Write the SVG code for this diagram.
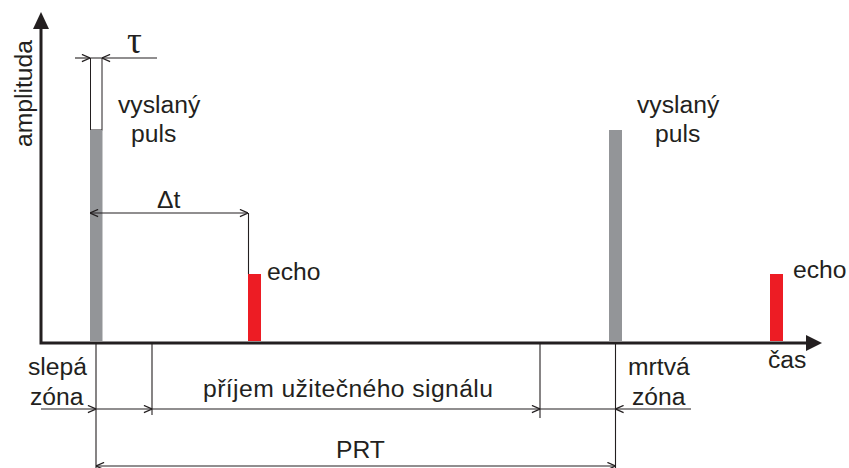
<svg xmlns="http://www.w3.org/2000/svg" width="849" height="468" viewBox="0 0 849 468">
<style>
text{font-family:"Liberation Sans",Arial,sans-serif;font-size:24.7px;fill:#231f20}
.tau{font-family:"Liberation Serif","Times New Roman",serif;font-size:37px}
.thin{stroke:#231f20;stroke-width:1.1;fill:none}
.axis{stroke:#231f20;stroke-width:3;fill:none}
.pulse{fill:#939598}
.echo{fill:#ed1c24}
</style>
<defs>
<marker id="ah" viewBox="0 0 10 10" refX="10" refY="5" markerWidth="9" markerHeight="9" markerUnits="userSpaceOnUse" orient="auto-start-reverse">
<path d="M1,1 L10,5 L1,9" fill="none" stroke="#231f20" stroke-width="1.4"/>
</marker>
</defs>
<rect width="849" height="468" fill="#fff"/>
<g id="axes">
<polyline class="axis" points="41,26 41,343 808,343"/>
<polygon points="41,12 33,29 49,29" fill="#231f20"/>
<polygon points="822,343 806,335 806,351" fill="#231f20"/>
<text transform="translate(32,93.5) rotate(-90)" text-anchor="middle">amplituda</text>
<text x="768" y="368">čas</text>
</g>
<g id="pulse1">
<rect x="90.5" y="58" width="11.5" height="72" fill="#fff" stroke="#231f20" stroke-width="1"/>
<rect class="pulse" x="90" y="130" width="12.5" height="211"/>
<text x="118" y="113">vyslaný</text>
<text x="131" y="142">puls</text>
</g>
<g id="echo1">
<rect class="echo" x="248" y="274" width="13" height="67"/>
<text x="267" y="280">echo</text>
</g>
<g id="pulse2">
<rect class="pulse" x="609" y="130" width="13" height="211"/>
<text x="637" y="113">vyslaný</text>
<text x="655" y="142">puls</text>
</g>
<g id="echo2">
<rect class="echo" x="770" y="274" width="13" height="67"/>
<text x="793" y="278">echo</text>
</g>
<g id="connectors">
<line class="thin" x1="75" y1="58" x2="90" y2="58" marker-end="url(#ah)"/>
<line class="thin" x1="157" y1="58" x2="102" y2="58" marker-end="url(#ah)"/>
<line class="thin" x1="90" y1="213" x2="248" y2="213" marker-start="url(#ah)" marker-end="url(#ah)"/>
<line class="thin" x1="248.5" y1="213" x2="248.5" y2="274"/>
<line class="thin" x1="96" y1="343" x2="96" y2="468"/>
<line class="thin" x1="152" y1="343" x2="152" y2="415" stroke="#555"/>
<line class="thin" x1="540" y1="343" x2="540" y2="418"/>
<line class="thin" x1="615.5" y1="343" x2="615.5" y2="468"/>
<line class="thin" x1="41" y1="409" x2="96" y2="409" marker-end="url(#ah)"/>
<line class="thin" x1="96" y1="409" x2="152" y2="409" marker-end="url(#ah)"/>
<line class="thin" x1="152" y1="409" x2="540" y2="409" marker-end="url(#ah)"/>
<line class="thin" x1="540" y1="409" x2="615.5" y2="409"/>
<line class="thin" x1="691" y1="409" x2="615.5" y2="409" marker-end="url(#ah)"/>
<line class="thin" x1="96" y1="466" x2="615.5" y2="466" marker-start="url(#ah)" marker-end="url(#ah)"/>
</g>
<g id="labels">
<text class="tau" x="127" y="53">τ</text>
<text x="157" y="208">Δt</text>
<text x="28" y="375">slepá</text>
<text x="30" y="405">zóna</text>
<text x="203" y="397" textLength="290" lengthAdjust="spacing">příjem užitečného signálu</text>
<text x="628" y="375">mrtvá</text>
<text x="632" y="405">zóna</text>
<text x="336" y="458">PRT</text>
</g>
</svg>
